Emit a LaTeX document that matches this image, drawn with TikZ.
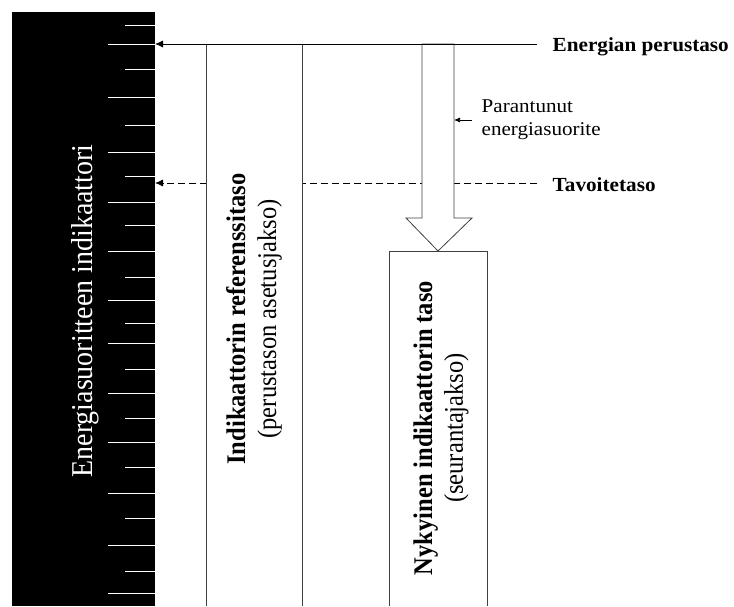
\documentclass[tikz,border=0pt]{standalone}
\usepackage{fontspec}
\setmainfont{Liberation Serif}
\usetikzlibrary{arrows.meta}
\begin{document}
\begin{tikzpicture}[x=1pt,y=-1pt,
  scaletick/.style={white,line width=1pt},
  levelline/.style={black,line width=0.8pt,-{Latex[length=8pt,width=7pt]}},
  targetline/.style={levelline,dash pattern=on 7pt off 4pt},
  boxline/.style={draw=black!75,line width=0.8pt},
  levellabel/.style={inner sep=0pt,font=\fontsize{20}{24}\selectfont\bfseries,xscale=1.06},
  notelabel/.style={inner sep=0pt,align=left,font=\fontsize{19.5}{23}\selectfont,xscale=1.08},
  barlabel/.style={inner sep=0pt,align=center,font=\fontsize{24.5}{28}\selectfont,xscale=1.1,rotate=90},
  axislabel/.style={inner sep=0pt,text=white,font=\fontsize{28}{32}\selectfont,xscale=1.08,rotate=90}]
\useasboundingbox (0,0) rectangle (734,606);

% indicator scale
\fill[black] (12,12) rectangle (155,606);
\foreach \t in {44,97,152,202,251,300,343,393,442,493,545,593}
  \draw[scaletick] (108,\t) -- (155,\t);
\foreach \t in {25,69,125,176,225,277,323,369,418,467,518,571}
  \draw[scaletick] (125,\t) -- (155,\t);
\node[axislabel] (axis) at (85,311) {Energiasuoritteen indikaattori};

% level lines
\coordinate (baseStart) at (537,44);
\coordinate (baseEnd) at (155,44);
\coordinate (targetStart) at (537,183);
\coordinate (targetEnd) at (155,183);
\draw[targetline] (targetStart) -- (targetEnd);

% reference period bar
\fill[white] (206,44) rectangle (302,606);
\draw[boxline] (206,44) -- (206,606);
\draw[boxline] (302,44) -- (302,606);

% improvement arrow
\draw[boxline,fill=white] (422,44) -- (422,218) -- (406,218) -- (438,251)
  -- (472,218) -- (454,218) -- (454,44) -- cycle;

\draw[levelline] (baseStart) -- (baseEnd);

% monitoring period bar
\draw[boxline,fill=white] (389,606) -- (389,251) -- (487,251) -- (487,606);

% labels
\node[levellabel,anchor=base west] (base) at (552.5,51) {Energian perustaso};
\node[levellabel,anchor=base west] (target) at (552.5,191) {Tavoitetaso};
\node[notelabel,anchor=north west] (note) at (481.5,99.5) {Parantunut\\energiasuorite};
\coordinate (noteTip) at (454,120);
\draw[black,line width=0.7pt,-{Latex[length=6pt,width=5pt]}] (472,120) -- (noteTip);

\node[barlabel] (reference) at (254,319)
  {\textbf{Indikaattorin referenssitaso}\\(perustason asetusjakso)};
\node[barlabel] (current) at (441,428)
  {\textbf{Nykyinen indikaattorin taso}\\(seurantajakso)};
\end{tikzpicture}
\end{document}
